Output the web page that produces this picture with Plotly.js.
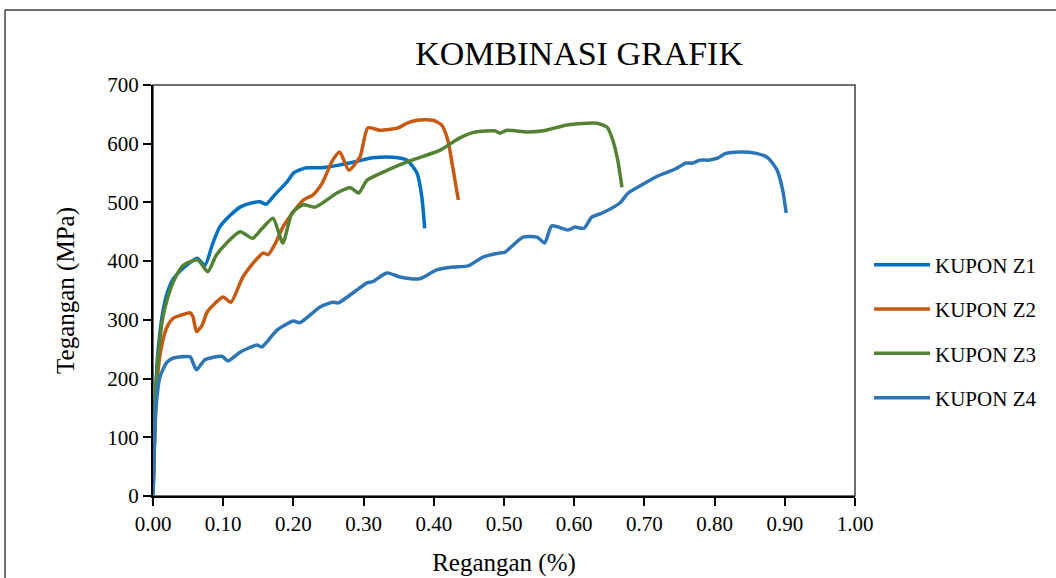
<!DOCTYPE html>
<html>
<head>
<meta charset="utf-8">
<script src="https://cdn.plot.ly/plotly-3.0.1.min.js"></script>
<style>html,body{margin:0;padding:0;background:#fff;}#chart{width:1056px;height:578px;}</style>
</head>
<body>
<div id="chart"></div>
<script>
// KUPON Z1
const z1x = [0, 0.003, 0.006, 0.01, 0.015, 0.02, 0.028, 0.04, 0.05, 0.063, 0.074, 0.085, 0.095, 0.11, 0.124, 0.14, 0.152, 0.161, 0.175, 0.191, 0.2, 0.21, 0.219, 0.24, 0.266, 0.29, 0.313, 0.342, 0.362, 0.376, 0.383, 0.387];
const z1y = [0, 150, 230, 280, 320, 345, 368, 385, 395, 405, 393, 430, 458, 478, 492, 499, 501, 497, 515, 535, 550, 556, 559, 559, 564, 570, 576, 577, 572, 550, 509, 456];
// KUPON Z2
const z2x = [0, 0.005, 0.01, 0.015, 0.02, 0.029, 0.04, 0.053, 0.057, 0.062, 0.07, 0.077, 0.09, 0.1, 0.111, 0.128, 0.145, 0.157, 0.164, 0.175, 0.185, 0.2, 0.214, 0.228, 0.241, 0.256, 0.266, 0.279, 0.295, 0.306, 0.323, 0.349, 0.362, 0.376, 0.399, 0.411, 0.42, 0.427, 0.435];
const z2y = [0, 180, 240, 270, 288, 303, 308, 312, 305, 280, 291, 313, 330, 339, 330, 373, 400, 414, 411, 432, 458, 484, 504, 513, 533, 572, 586, 555, 578, 627, 623, 627, 635, 640, 640, 632, 606, 560, 504];
// KUPON Z3
const z3x = [0, 0.005, 0.01, 0.015, 0.02, 0.029, 0.043, 0.064, 0.078, 0.09, 0.105, 0.124, 0.142, 0.155, 0.171, 0.185, 0.198, 0.214, 0.231, 0.262, 0.281, 0.293, 0.305, 0.338, 0.362, 0.409, 0.437, 0.459, 0.487, 0.494, 0.504, 0.533, 0.556, 0.59, 0.632, 0.647, 0.655, 0.662, 0.668];
const z3y = [0, 200, 270, 310, 334, 365, 393, 402, 382, 410, 431, 450, 439, 455, 473, 431, 482, 496, 492, 516, 525, 516, 538, 557, 569, 589, 610, 620, 622, 618, 623, 620, 622, 632, 635, 628, 606, 572, 526];
// KUPON Z4
const z4x = [0, 0.004, 0.01, 0.02, 0.029, 0.053, 0.057, 0.062, 0.074, 0.098, 0.107, 0.124, 0.148, 0.155, 0.177, 0.2, 0.209, 0.238, 0.256, 0.264, 0.305, 0.313, 0.333, 0.352, 0.38, 0.404, 0.427, 0.449, 0.47, 0.494, 0.501, 0.527, 0.547, 0.558, 0.568, 0.591, 0.601, 0.614, 0.625, 0.64, 0.665, 0.677, 0.698, 0.719, 0.744, 0.759, 0.769, 0.779, 0.791, 0.805, 0.815, 0.836, 0.858, 0.876, 0.889, 0.897, 0.902];
const z4y = [0, 146, 203, 228, 235, 237, 227, 215, 232, 238, 230, 245, 257, 254, 283, 298, 295, 322, 330, 329, 363, 365, 380, 373, 370, 385, 390, 392, 407, 414, 415, 441, 441, 431, 460, 453, 458, 456, 475, 482, 499, 516, 531, 545, 557, 567, 567, 572, 572, 576, 583, 586, 584, 576, 555, 521, 482];

const seriesNames = ['KUPON Z1', 'KUPON Z2', 'KUPON Z3', 'KUPON Z4'];
const seriesColors = ['#0070C0', '#C55A11', '#548235', '#2E75B6'];
const xs = [z1x, z2x, z3x, z4x];
const ys = [z1y, z2y, z3y, z4y];

const FONT = '"Liberation Serif", "Times New Roman", serif';

const traces = xs.map((x, i) => ({
  x: x, y: ys[i], type: 'scatter', mode: 'lines', name: seriesNames[i],
  legendgroup: 'g' + i,
  line: {color: seriesColors[i], width: 3.5, shape: 'spline', smoothing: 0.6}
}));

const layout = {
  width: 1056, height: 578,
  margin: {l: 153, r: 201, t: 85, b: 82},
  paper_bgcolor: '#ffffff', plot_bgcolor: '#ffffff',
  font: {family: FONT, color: '#000000', size: 21},
  title: {text: 'KOMBINASI GRAFIK', font: {family: FONT, size: 34, color: '#000'},
          xref: 'paper', x: 0.607, xanchor: 'center', yref: 'container', y: 0.908, yanchor: 'middle'},
  xaxis: {range: [0, 1], dtick: 0.1, tick0: 0, tickformat: '.2f', showgrid: false, zeroline: false,
          showline: true, linecolor: '#000', linewidth: 2, ticks: 'outside', ticklen: 8, tickwidth: 2, tickcolor: '#000',
          tickfont: {family: FONT, size: 21}, fixedrange: true,
          title: {text: 'Regangan (%)', font: {family: FONT, size: 25}, standoff: 18}, automargin: false},
  yaxis: {range: [0, 700], dtick: 100, showgrid: false, zeroline: false,
          showline: true, linecolor: '#000', linewidth: 2, ticks: 'outside', ticklen: 8, tickwidth: 2, tickcolor: '#000',
          tickfont: {family: FONT, size: 21}, fixedrange: true,
          title: {text: 'Tegangan (MPa)', font: {family: FONT, size: 25}, standoff: 26}, automargin: false},
  legend: {x: 1.02, xanchor: 'left', y: 0.40, yanchor: 'middle', font: {family: FONT, size: 21},
           traceorder: 'grouped', tracegroupgap: 14, itemwidth: 56, bgcolor: 'rgba(0,0,0,0)'},
  shapes: [
    {type: 'rect', xref: 'paper', yref: 'paper', x0: 0, x1: 1, y0: 0, y1: 1, line: {color: '#404040', width: 1.5}, layer: 'below'},
    {type: 'line', xref: 'paper', yref: 'paper', x0: -0.2108, x1: -0.2108, y0: 1.1825, y1: -0.25, line: {color: '#404040', width: 1.5}},
    {type: 'line', xref: 'paper', yref: 'paper', x0: -0.2108, x1: 1.3, y0: 1.1825, y1: 1.1825, line: {color: '#404040', width: 1.5}}
  ]
};

Plotly.newPlot('chart', traces, layout, {displayModeBar: false, staticPlot: true});
</script>
</body>
</html>
